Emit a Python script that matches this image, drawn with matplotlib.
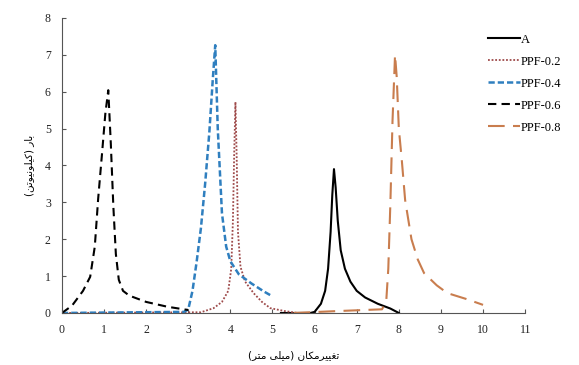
import matplotlib
matplotlib.use('Agg')
import matplotlib.pyplot as plt

# داده‌ها (خوانده شده از تصویر)
x_a = [5.2, 5.9, 6.0, 6.15, 6.25, 6.32, 6.38, 6.42, 6.46, 6.5, 6.55, 6.62, 6.72, 6.85,
       7.0, 7.2, 7.5, 7.8, 8.0]
y_a = [0, 0, 0.03, 0.25, 0.6, 1.2, 2.2, 3.2, 3.9, 3.4, 2.5, 1.7, 1.2, 0.85,
       0.6, 0.42, 0.25, 0.12, 0]

x_02 = [0, 3.3, 3.6, 3.8, 3.95, 4.02, 4.06, 4.09, 4.12, 4.15, 4.18, 4.24, 4.35, 4.55,
        4.75, 4.95, 5.3, 5.6]
y_02 = [0, 0.02, 0.13, 0.3, 0.6, 1.2, 2.5, 4.3, 5.72, 4.2, 2.2, 1.25, 0.85, 0.54,
        0.3, 0.13, 0.05, 0.0]

x_04 = [0, 2.9, 3.0, 3.1, 3.2, 3.3, 3.4, 3.5, 3.58, 3.64, 3.7, 3.8, 3.9, 4.0, 4.2,
        4.5, 4.8, 5.0]
y_04 = [0, 0.03, 0.1, 0.6, 1.4, 2.3, 3.5, 4.9, 6.3, 7.26, 5.0, 2.7, 1.8, 1.4, 1.05,
        0.8, 0.58, 0.45]

x_06 = [0, 0.24, 0.5, 0.67, 0.78, 0.86, 0.95, 1.03, 1.1, 1.16, 1.22, 1.28, 1.35, 1.45,
        1.6, 2.0, 2.5, 3.0]
y_06 = [0, 0.2, 0.6, 0.98, 1.8, 3.1, 4.3, 5.4, 6.04, 4.6, 2.9, 1.6, 0.9, 0.6,
        0.47, 0.3, 0.17, 0.08]

x_08 = [5.5, 6.5, 7.6, 7.7, 7.75, 7.8, 7.85, 7.91, 7.95, 8.0, 8.07, 8.15, 8.3, 8.45,
        8.6, 8.9, 9.15, 9.6, 10.0]
y_08 = [0, 0.05, 0.1, 0.3, 1.2, 3.0, 5.2, 7.0, 6.4, 5.0, 4.15, 3.06, 2.0, 1.45,
        1.08, 0.75, 0.54, 0.38, 0.22]

xticks = list(range(0, 12))
yticks = list(range(0, 9))

# شکل‌دهی ساده حروف فارسی (matplotlib خودش این کار را نمی‌کند)
FORMS = {
    'ا': ('\uFE8D', '\uFE8E', None, None),
    'ب': ('\uFE8F', '\uFE90', '\uFE91', '\uFE92'),
    'ت': ('\uFE95', '\uFE96', '\uFE97', '\uFE98'),
    'ر': ('\uFEAD', '\uFEAE', None, None),
    'غ': ('\uFECD', '\uFECE', '\uFECF', '\uFED0'),
    'ل': ('\uFEDD', '\uFEDE', '\uFEDF', '\uFEE0'),
    'م': ('\uFEE1', '\uFEE2', '\uFEE3', '\uFEE4'),
    'ن': ('\uFEE5', '\uFEE6', '\uFEE7', '\uFEE8'),
    'و': ('\uFEED', '\uFEEE', None, None),
    'ی': ('\uFBFC', '\uFBFD', '\uFBFE', '\uFBFF'),
    'ک': ('\uFB8E', '\uFB8F', '\uFB90', '\uFB91'),
}


def farsi(text):
    out = []
    for i, ch in enumerate(text):
        if ch not in FORMS:
            out.append(ch)
            continue
        prev = text[i - 1] if i > 0 else ''
        nxt = text[i + 1] if i + 1 < len(text) else ''
        jp = prev in FORMS and FORMS[prev][2] is not None
        jn = FORMS[ch][2] is not None and nxt in FORMS
        f = FORMS[ch]
        if jp and jn:
            out.append(f[3])
        elif jp:
            out.append(f[1])
        elif jn:
            out.append(f[2])
        else:
            out.append(f[0])
    mirror = {'(': ')', ')': '('}
    return ''.join(mirror.get(c, c) for c in reversed(out))


fig = plt.figure(figsize=(5.79, 3.65), dpi=100)
ax = fig.add_axes([0.107, 0.1425, 0.8, 0.8085])

ax.plot(x_a, y_a, color='black', lw=1.5, label='A')
ax.plot(x_02, y_02, color='#9e4a4a', lw=1.3, linestyle=(0, (1, 1)), label='PPF-0.2')
ax.plot(x_04, y_04, color='#2f7fbf', lw=1.8, linestyle=(0, (2.5, 1.2)), label='PPF-0.4')
ax.plot(x_06, y_06, color='black', lw=1.5, linestyle=(0, (4, 2.5)), label='PPF-0.6')
ax.plot(x_08, y_08, color='#c97d4e', lw=1.5, linestyle=(0, (8, 4)), label='PPF-0.8')

ax.set_xlim(0, 11)
ax.set_ylim(0, 8)
ax.set_xticks(xticks)
ax.set_yticks(yticks)
for s in ['top', 'right']:
    ax.spines[s].set_visible(False)
ax.spines['left'].set_color('#555555')
ax.spines['bottom'].set_color('#555555')
ax.tick_params(length=3, width=0.8, colors='#555555', labelcolor='#222222', labelsize=8.5,
               direction='in', pad=8)
for lab in ax.get_xticklabels() + ax.get_yticklabels():
    lab.set_fontfamily('Liberation Serif')

ax.set_xlabel(farsi('تغییرمکان (میلی متر)'), fontsize=7.5, fontfamily='DejaVu Sans', labelpad=10)
ax.set_ylabel(farsi('بار (کیلونیوتن)'), fontsize=7.5, fontfamily='DejaVu Sans', labelpad=8)

ax.legend(loc='upper left', bbox_to_anchor=(0.895, 0.985), frameon=False,
          prop={'family': 'Liberation Serif', 'size': 9}, handlelength=2.6,
          handletextpad=0.05, labelspacing=0.8)

fig.savefig('out.png', dpi=100)
